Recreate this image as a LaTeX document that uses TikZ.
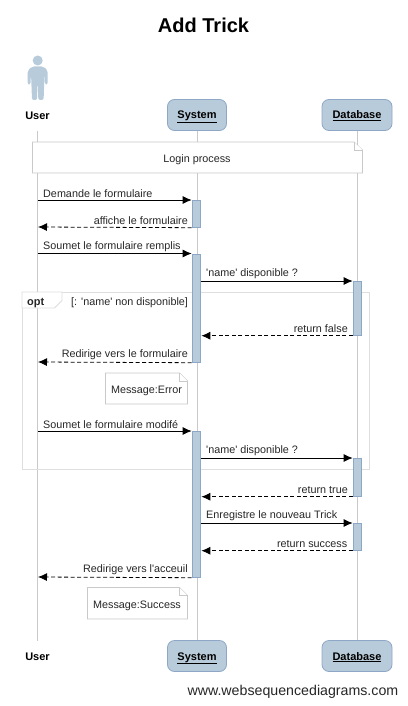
\documentclass[tikz,border=0pt]{standalone}
\usepackage{fontspec}
\setmainfont{Liberation Sans}[Ligatures=TeXOff]
\usetikzlibrary{arrows.meta,positioning,calc}
\definecolor{wbar}{HTML}{B8CBDA}
\definecolor{wedge}{HTML}{8EA7C6}
\definecolor{wline}{HTML}{C9C9C9}
\definecolor{wframe}{HTML}{DEDEDE}
\tikzset{
  mid/.style={text height=8pt,text depth=0pt},
  head/.style={draw=wedge,fill=wbar,rounded corners=7pt,line width=0.8pt,minimum height=31pt,inner sep=0pt,mid,font=\fontsize{11}{12}\selectfont\bfseries},
  who/.style={inner sep=0pt,mid,font=\fontsize{11}{12}\selectfont\bfseries},
  bar/.style={draw=wedge,fill=wbar,line width=0.7pt,minimum width=8pt,inner sep=0pt,anchor=north},
  life/.style={draw=wline,line width=0.8pt},
  note/.style={draw=wline,fill=white,line width=0.8pt},
  msg/.style={-{Latex[length=9pt,width=8pt]},line width=0.8pt,draw=black},
  back/.style={msg,dash pattern=on 4pt off 2.5pt},
  lbl/.style={inner sep=0pt,font=\fontsize{10.8}{12}\selectfont,text=black!85},
}
\begin{document}
\begin{tikzpicture}[x=1pt,y=-1pt]
  \useasboundingbox (0,0.5) rectangle (407,706.5);
  \node[inner sep=0pt,font=\fontsize{20}{24}\selectfont\bfseries] (title) at (203.5,25.5) {Add Trick};
  % heads
  \node[who] (u1) at (37.5,116) {User};
  \node[head,minimum width=59pt] (s1) at (197,115.5) {\underline{System}};
  \node[head,minimum width=70pt] (d1) at (357,115.5) {\underline{Database}};
  \node[who] (u2) at (37.5,657) {User};
  \node[head,minimum width=59pt] (s2) at (197,656.5) {\underline{System}};
  \node[head,minimum width=70pt] (d2) at (357,656.5) {\underline{Database}};
  % lifelines
  \coordinate (ut) at (37.5,131);
  \coordinate (ub) at (37.5,641);
  \draw[life] (ut) -- (ub);
  \draw[life] (s1.south) -- (s2.north);
  \draw[life] (d1.south) -- (d2.north);
  % actor
  \fill[wbar] (37.7,61) circle (5);
  \fill[wbar,rounded corners=2pt] (32,67) -- (43.5,67) -- (47.7,71) -- (47.7,85) -- (45,85) -- (44.6,73) -- (43.6,100.5) -- (38.3,100.5) -- (38,85) -- (37.4,85) -- (37.1,100.5) -- (32,100.5) -- (31,73) -- (30.4,85) -- (27.7,85) -- (27.7,71) -- cycle;
  % login
  \draw[note] (32.5,142.5) -- (354,142.5) -- (362.5,150.5) -- (362.5,173.5) -- (32.5,173.5) -- cycle;
  \draw[note] (354,142.5) -- (354,150.5) -- (362.5,150.5);
  \node[lbl,mid] (login) at (197,158.5) {Login process};
  % opt
  \draw[draw=wframe,line width=1pt] (22,292.5) rectangle (369.5,469.5);
  \draw[draw=wframe,fill=white,line width=0.8pt] (22,292.5) -- (62,292.5) -- (62,301) -- (54.5,308.5) -- (22,308.5) -- cycle;
  \node[lbl,mid,anchor=west,font=\fontsize{11}{12}\selectfont\bfseries] (opt) at (27,301.5) {opt};
  \node[lbl,mid,anchor=west] (cond) at (71,301.5) {[: 'name' non disponible]};
  % activations
  \node[bar,minimum height=27pt] (a1) at (196,200.5) {};
  \node[bar,minimum height=108.5pt] (a2) at (196,254) {};
  \node[bar,minimum height=146pt] (a3) at (196,431.5) {};
  \node[bar,minimum height=54pt] (b1) at (357,281.5) {};
  \node[bar,minimum height=38pt] (b2) at (357,458.5) {};
  \node[bar,minimum height=27pt] (b3) at (357,523.5) {};
  % free ends on user line
  \coordinate (m1) at (38,200.5);
  \coordinate (m2) at (38,227.5);
  \coordinate (m3) at (38,254);
  \coordinate (m4) at (38,362.5);
  \coordinate (m5) at (38,431.5);
  \coordinate (m6) at (38,577.5);
  % messages
  \draw[msg] (m1) -- (a1.north west);
  \node[lbl,anchor=south west] (t1) at (43,198.5) {Demande le formulaire};
  \draw[back] (a1.south west) -- (m2);
  \node[lbl,anchor=south east] (t2) at (188,225.5) {affiche le formulaire};
  \draw[msg] (m3) -- (a2.north west);
  \node[lbl,anchor=south west] (t3) at (43,252) {Soumet le formulaire remplis};
  \draw[msg] ($(a2.east |- b1.north west)+(1,0)$) -- (b1.north west);
  \node[lbl,anchor=south west] (t4) at (206,279.5) {'name' disponible ?};
  \draw[back] (b1.south west) -- ($(a2.east |- b1.south west)+(1,0)$);
  \node[lbl,anchor=south east] (t5) at (348,333.5) {return false};
  \draw[back] (a2.south west) -- (m4);
  \node[lbl,anchor=south east] (t6) at (188,360.5) {Redirige vers le formulaire};
  \draw[note] (105.5,373.5) -- (179.5,373.5) -- (187.5,381.5) -- (187.5,404.5) -- (105.5,404.5) -- cycle;
  \draw[note] (179.5,373.5) -- (179.5,381.5) -- (187.5,381.5);
  \node[lbl,mid] (err) at (146.5,389.5) {Message:Error};
  \draw[msg] (m5) -- (a3.north west);
  \node[lbl,anchor=south west] (t7) at (43,429.5) {Soumet le formulaire modifé};
  \draw[msg] ($(a3.east |- b2.north west)+(1,0)$) -- (b2.north west);
  \node[lbl,anchor=south west] (t8) at (206,456.5) {'name' disponible ?};
  \draw[back] (b2.south west) -- ($(a3.east |- b2.south west)+(1,0)$);
  \node[lbl,anchor=south east] (t9) at (348,494.5) {return true};
  \draw[msg] ($(a3.east |- b3.north west)+(1,0)$) -- (b3.north west);
  \node[lbl,anchor=south west] (t10) at (206,521.5) {Enregistre le nouveau Trick};
  \draw[back] (b3.south west) -- ($(a3.east |- b3.south west)+(1,0)$);
  \node[lbl,anchor=south east] (t11) at (347.5,548.5) {return success};
  \draw[back] (a3.south west) -- (m6);
  \node[lbl,anchor=south east] (t12) at (188,575.5) {Redirige vers l'acceuil};
  \draw[note] (87.5,588) -- (179.5,588) -- (187.5,596) -- (187.5,619.5) -- (87.5,619.5) -- cycle;
  \draw[note] (179.5,588) -- (179.5,596) -- (187.5,596);
  \node[lbl,mid] (suc) at (137,604.5) {Message:Success};
  % footer
  \node[inner sep=0pt,anchor=east,font=\fontsize{14.2}{16}\selectfont,text=black!85] (site) at (398.5,692) {www.websequencediagrams.com};
\end{tikzpicture}
\end{document}
